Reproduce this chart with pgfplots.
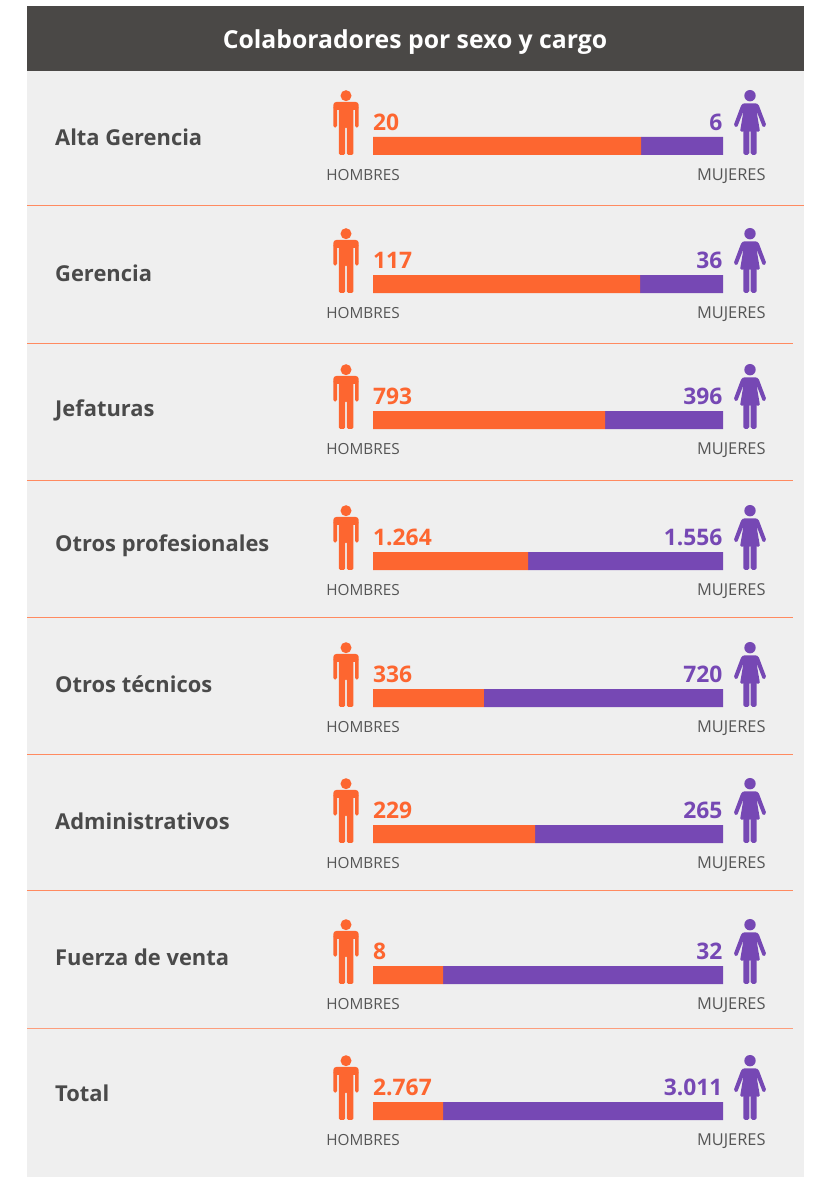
\documentclass[border=0pt]{standalone}
\usepackage{pgfplots}
\usepackage{pgfplotstable}
\usepackage{fontspec}
\pgfplotsset{compat=1.18}
\setmainfont{Open Sans}
\definecolor{hdr}{HTML}{4A4846}
\definecolor{panel}{HTML}{EFEFEF}
\definecolor{org}{HTML}{FD6630}
\definecolor{pur}{HTML}{7648B4}
\definecolor{txt}{HTML}{4A4A4A}
\definecolor{sub}{HTML}{555555}
\definecolor{ruleorg}{HTML}{FF8A60}
% y (row centre, px from top), share of the bar for each sex, as drawn
\pgfplotstableread{
y hombres mujeres
146 76.6 23.4
284 76.3 23.7
420 66.3 33.7
561 44.3 55.7
698 31.7 68.3
834 46.3 53.7
975 20.0 80.0
1111 20.0 80.0
}\bars
\newcommand{\manicon}{%
  \fill[org] (346,95.7) circle (5.5);
  \fill[org,rounded corners=3pt] (333.3,110)--(333.3,102)--(358.7,102)--(358.7,110)--cycle;
  \fill[org,rounded corners=1.6pt] (333.3,127.6)--(333.3,106)--(358.7,106)--(358.7,127.6)--(355.1,127.6)--(355.1,108)--(353.4,108)--(353.4,155)--(346.8,155)--(346.8,126.5)--(345.2,126.5)--(345.2,155)--(338.8,155)--(338.8,108)--(337,108)--(337,127.6)--cycle;
}
\newcommand{\womanicon}{%
  \fill[pur] (750,95.7) circle (5.7);
  \fill[pur,rounded corners=1.4pt] (743.5,103.3)--(756.5,103.3)--(758.5,104.5)--(766.4,125.5)--(763,127.6)--(756.5,111)--(760,131.7)--(740,131.7)--(743.5,111)--(737,127.6)--(733.6,125.5)--(741.5,104.5)--cycle;
  \fill[pur,rounded corners=1.8pt] (743.4,130)--(749.3,130)--(749.3,155)--(743.4,155)--cycle;
  \fill[pur,rounded corners=1.8pt] (750.7,130)--(756.6,130)--(756.6,155)--(750.7,155)--cycle;
}
% #1 bar top, #2 label baseline, #3 label, #4 men, #5 women
\newcommand{\row}[5]{%
  \begin{scope}[shift={(0,#1-137)}]
    \manicon\womanicon
    \node[anchor=base west,inner sep=0pt,text=org,font=\fontsize{22.8}{22.8}\selectfont\bfseries] at (373,130.7) {#4};
    \node[anchor=base east,inner sep=0pt,text=pur,font=\fontsize{22.8}{22.8}\selectfont\bfseries] at (722.5,130.7) {#5};
    \node[anchor=base,inner sep=0pt,text=sub,font=\fontsize{15.3}{15.3}\selectfont] at (363,180.2) {HOMBRES};
    \node[anchor=base,inner sep=0pt,text=sub,font=\fontsize{16.4}{16.4}\selectfont] at (731.3,180.2) {MUJERES};
  \end{scope}
  \node[anchor=base west,inner sep=0pt,text=txt,font=\fontsize{21.9}{21.9}\selectfont\bfseries] at (55,#2) {#3};
}
\begin{document}
\begin{tikzpicture}[x=1pt,y=1pt]
\fill[white] (0,0) rectangle (812,1177);
\begin{scope}[y=-1pt,yshift=1177pt]
  \fill[panel] (27,71) rectangle (804,1177);
  \fill[hdr] (27,6) rectangle (804,71);
  \node[anchor=base,inner sep=0pt,text=white,font=\fontsize{24.75}{24.75}\selectfont\bfseries] at (415,48.3) {Colaboradores por sexo y cargo};
  \draw[ruleorg,line width=1.2pt] (27,205.5)--(804,205.5);
  \foreach \yy in {343.5,480.5,617.5,754.5,890.5}{\draw[ruleorg,line width=1.2pt] (27,\yy)--(793,\yy);}
  \draw[ruleorg!80!panel,line width=1.2pt] (27,1028.5)--(793,1028.5);
  \row{137}{146}{Alta Gerencia}{20}{6}
  \row{275}{282}{Gerencia}{117}{36}
  \row{411}{417}{Jefaturas}{793}{396}
  \row{552}{552}{Otros profesionales}{1.264}{1.556}
  \row{689}{693}{Otros técnicos}{336}{720}
  \row{825}{830}{Administrativos}{229}{265}
  \row{966}{966}{Fuerza de venta}{8}{32}
  \row{1102}{1102}{Total}{2.767}{3.011}
\end{scope}
\begin{axis}[
  at={(0pt,0pt)},anchor=south west,
  scale only axis,width=812pt,height=1177pt,
  axis lines=none,clip=false,
  xmin=-106.571,xmax=125.429,
  ymin=0,ymax=1177,y dir=reverse,
  xbar stacked,bar width=18pt,
]
\addplot[fill=org,draw=none] table[x=hombres,y=y] {\bars};
\addplot[fill=pur,draw=none] table[x=mujeres,y=y] {\bars};
\end{axis}
\end{tikzpicture}
\end{document}
